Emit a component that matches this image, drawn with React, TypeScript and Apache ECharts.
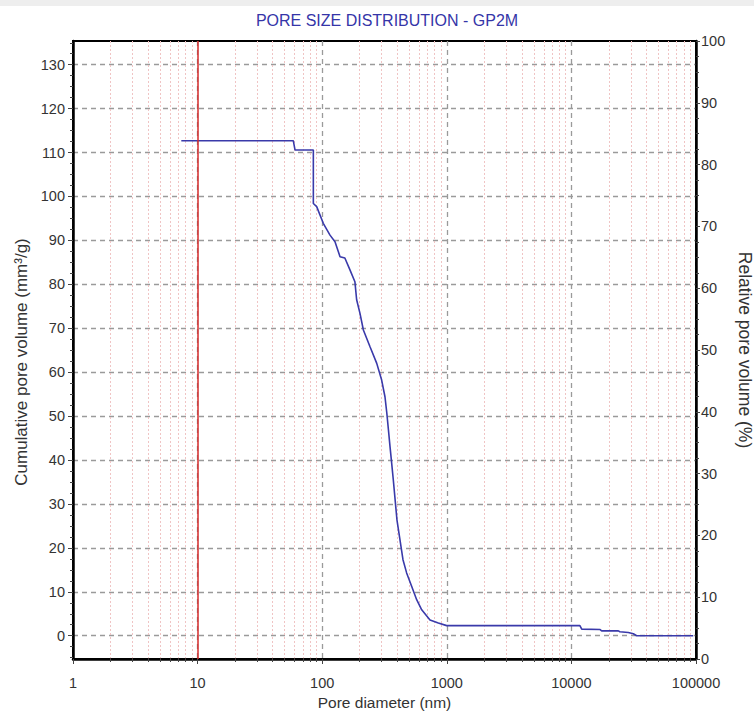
import React, { useEffect, useRef } from "react";
import * as echarts from "echarts";

const chartTitle = "PORE SIZE DISTRIBUTION - GP2M";
const xName = "Pore diameter (nm)";
const yLeftName = "Cumulative pore volume (mm³/g)";
const yRightName = "Relative pore volume (%)";

// pore diameter (nm) and cumulative pore volume (mm³/g)
const poreDiameter = [
  7.4, 58.6, 60.5, 84.9, 84.9, 90.3, 102, 115.5, 126.7, 139, 152, 167, 183, 189,
  201, 214, 242, 274, 300, 319, 330, 340, 350, 361, 372, 398, 445, 476, 523, 573,
  629, 733, 855, 998, 11700, 12100, 17000, 17500, 23800, 24500, 28600, 31400,
  33400, 95000,
];
const cumulativeVolume = [
  112.7, 112.7, 110.6, 110.6, 98.4, 97.7, 93.9, 91.2, 89.7, 86.3, 86, 83.3, 80.6,
  76.5, 73.4, 69.6, 65.8, 62, 58.2, 54.4, 50.7, 46.9, 43.1, 39.3, 35.5, 26.4,
  17.3, 14.3, 11.2, 8.2, 5.9, 3.6, 2.9, 2.3, 2.3, 1.5, 1.4, 1.1, 1.1, 0.9, 0.75,
  0.45, 0, 0,
];

const leftTickValues = [0, 10, 20, 30, 40, 50, 60, 70, 80, 90, 100, 110, 120, 130];
const leftMinorTickValues = [
  -5, -2.5, 2.5, 5, 7.5, 12.5, 15, 17.5, 22.5, 25, 27.5, 32.5, 35, 37.5, 42.5, 45,
  47.5, 52.5, 55, 57.5, 62.5, 65, 67.5, 72.5, 75, 77.5, 82.5, 85, 87.5, 92.5, 95,
  97.5, 102.5, 105, 107.5, 112.5, 115, 117.5, 122.5, 125, 127.5, 132.5, 135,
];
const markerDiameter = 10;

const FONT = "'Liberation Sans', Arial, sans-serif";

export default function App() {
  const ref = useRef<HTMLDivElement>(null);

  useEffect(() => {
    if (!ref.current) return;
    const chart = echarts.init(ref.current, undefined, { renderer: "svg" });
    const data = poreDiameter.map((d, i) => [d, cumulativeVolume[i]]);
    const labelStyle = { color: "#333", fontSize: 14.5, fontFamily: FONT };
    const option: any = {
      animation: false,
      backgroundColor: "#ffffff",
      title: {
        text: chartTitle,
        left: 382,
        textAlign: "center",
        top: 7,
        textStyle: { color: "#3535a8", fontSize: 16, fontWeight: "normal", fontFamily: FONT },
      },
      graphic: [
        { type: "rect", shape: { x: 0, y: 0, width: 754, height: 6 }, style: { fill: "#eeeeee" }, silent: true },
      ],
      grid: {
        left: 73,
        right: 58,
        top: 41,
        bottom: 55,
        containLabel: false,
        outerBoundsMode: "none",
        show: true,
        borderColor: "#000",
        borderWidth: 2,
        backgroundColor: "transparent",
      },
      xAxis: {
        type: "log",
        logBase: 10,
        min: 1,
        max: 100000,
        name: xName,
        nameLocation: "middle",
        nameGap: 34,
        nameTextStyle: { color: "#333", fontSize: 15.5, fontFamily: FONT },
        axisLine: { onZero: false, lineStyle: { color: "#000", width: 2.5 } },
        axisTick: { show: true, length: 5, lineStyle: { color: "#444" } },
        minorTick: { show: true, splitNumber: 9, length: 3, lineStyle: { color: "#444" } },
        axisLabel: { ...labelStyle, margin: 16, formatter: (v: number) => String(v) },
        splitLine: { show: true, lineStyle: { color: "#9a9a9a", type: [5, 4], width: 1.3 } },
        minorSplitLine: { show: true, lineStyle: { color: "#f0c4c4", type: [2, 2], width: 1 } },
      },
      yAxis: [
        {
          type: "value",
          position: "left",
          min: -5.3,
          max: 135.4,
          name: yLeftName,
          nameLocation: "middle",
          nameGap: 42,
          nameRotate: 90,
          nameTextStyle: { color: "#333", fontSize: 17, fontFamily: FONT, padding: [0, 24, 0, 0] },
          axisLine: { show: true, onZero: false, lineStyle: { color: "#000", width: 2.5 } },
          axisTick: { show: true, length: 5, customValues: leftTickValues, lineStyle: { color: "#444" } },
          axisLabel: { ...labelStyle, margin: 8, customValues: leftTickValues },
          splitLine: { show: true, lineStyle: { color: "#9a9a9a", type: [5, 4], width: 1.3 } },
        },
        {
          type: "value",
          position: "right",
          min: 0,
          max: 100,
          interval: 10,
          name: yRightName,
          nameLocation: "middle",
          nameGap: 36,
          nameRotate: -90,
          nameTextStyle: { color: "#333", fontSize: 17.5, fontFamily: FONT },
          axisLine: { show: true, onZero: false, lineStyle: { color: "#000", width: 2.5 } },
          axisTick: { show: true, length: 4, lineStyle: { color: "#444" } },
          minorTick: { show: true, splitNumber: 4, length: 3, lineStyle: { color: "#444" } },
          axisLabel: { ...labelStyle, margin: 5 },
          splitLine: { show: false },
        },
        {
          type: "value",
          position: "left",
          min: -5.3,
          max: 135.4,
          axisLine: { show: false, onZero: false },
          axisTick: { show: true, length: 3, customValues: leftMinorTickValues, lineStyle: { color: "#444" } },
          axisLabel: { show: false },
          splitLine: { show: false },
        },
      ],
      series: [
        {
          type: "line",
          xAxisIndex: 0,
          yAxisIndex: 0,
          data,
          symbol: "none",
          lineStyle: { color: "#3a3aaa", width: 1.6 },
          markLine: {
            silent: true,
            symbol: "none",
            label: { show: false },
            lineStyle: { color: "#d42a2a", type: "solid", width: 1.5 },
            data: [{ xAxis: markerDiameter }],
          },
          z: 3,
        },
      ],
    };
    chart.setOption(option);
    return () => chart.dispose();
  }, []);

  return (
    <div
      ref={ref}
      style={{ position: "fixed", left: 0, top: 0, width: 754, height: 714, background: "#fff" }}
    />
  );
}
